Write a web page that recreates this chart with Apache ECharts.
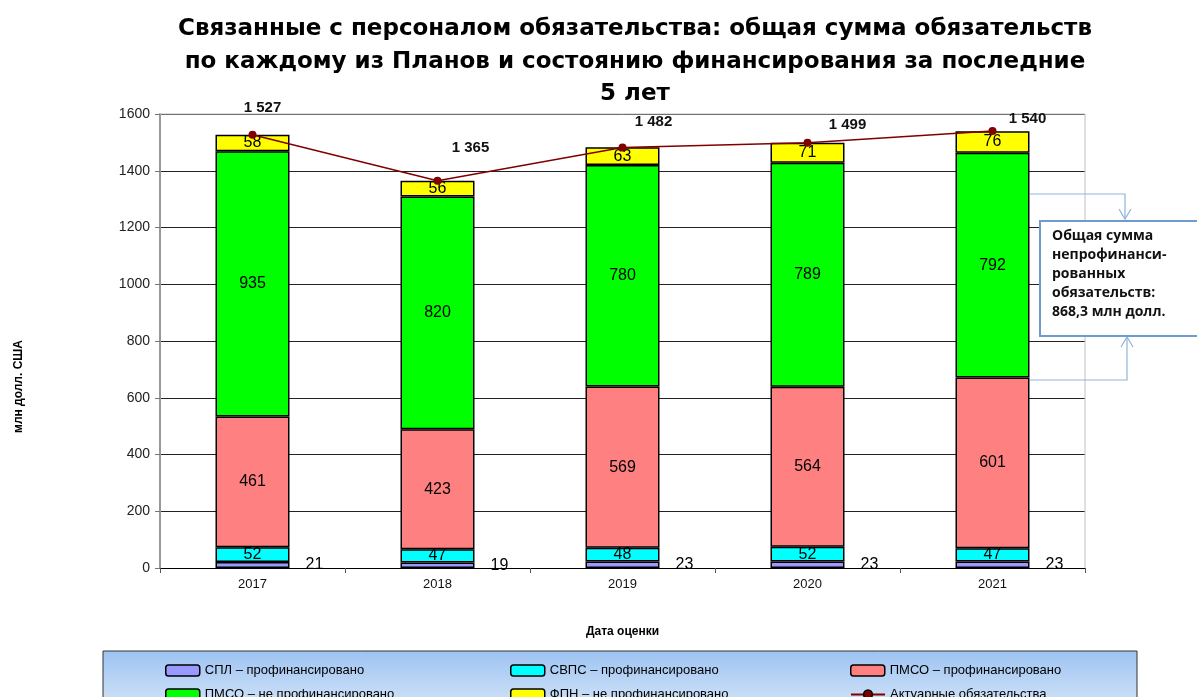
<!DOCTYPE html>
<html>
<head>
<meta charset="utf-8">
<script src="https://cdn.jsdelivr.net/npm/echarts@6/dist/echarts.min.js"></script>
<style>
  html, body { margin: 0; padding: 0; background: #fff; }
  #main { width: 1197px; height: 697px; }
</style>
</head>
<body>
<div id="main"></div>
<script>
// данные с картинки
var years = ['2017', '2018', '2019', '2020', '2021'];
var splFunded = [21, 19, 23, 23, 23];
var svpsFunded = [52, 47, 48, 52, 47];
var pmsoFunded = [461, 423, 569, 564, 601];
var pmsoUnfunded = [935, 820, 780, 789, 792];
var fpnUnfunded = [58, 56, 63, 71, 76];
var actuarial = [1527, 1365, 1482, 1499, 1540];
var yTicks = [0, 200, 400, 600, 800, 1000, 1200, 1400, 1600];

// сдвиги подписей линии (как на исходном рисунке)
var lineLabelOffsets = [[10, -10], [33, -16], [31, -9], [40, -1], [35, 4]];

var names = ['СПЛ – профинансировано', 'СВПС – профинансировано', 'ПМСО – профинансировано',
             'ПМСО – не профинансировано', 'ФПН – не профинансировано', 'Актуарные обязательства'];

function fmt(v) {
    return String(v).replace(/\B(?=(\d{3})+(?!\d))/g, ' ');
}

var barBase = {
    type: 'bar',
    stack: 'total',
    barWidth: '40%',
    itemStyle: { borderColor: '#000', borderWidth: 1.5 },
    label: { show: true, position: 'inside', color: '#000', fontSize: 16, fontFamily: 'Liberation Sans' }
};

function bar(name, data, color, extra) {
    var s = JSON.parse(JSON.stringify(barBase));
    s.name = name;
    s.data = data;
    s.itemStyle.color = color;
    if (extra) s.label = Object.assign(s.label, extra);
    return s;
}

var legendText = { fontSize: 13, color: '#000', fontFamily: 'Liberation Sans Narrow, Liberation Sans' };
var legendIcon = { borderColor: '#000', borderWidth: 1.5 };
var legendPos = [[160, 659], [505, 659], [845, 659], [160, 683], [505, 683], [845, 683]];
var order = [0, 1, 2, 3, 4, 5];

var legends = order.map(function (i) {
    return {
        left: legendPos[i][0], top: legendPos[i][1],
        itemWidth: 34, itemHeight: 11, itemGap: 5,
        data: [names[i]], textStyle: legendText, itemStyle: legendIcon
    };
});

var option = {
    animation: false,
    backgroundColor: '#fff',
    title: {
        text: 'Связанные с персоналом обязательства: общая сумма обязательств\nпо каждому из Планов и состоянию финансирования за последние\n5 лет',
        left: 630,
        textAlign: 'center',
        top: 8,
        textStyle: { fontSize: 23, fontWeight: 'bold', color: '#000', lineHeight: 32.5, fontFamily: 'DejaVu Sans' }
    },
    grid: { left: 160, right: 112, top: 114, bottom: 129 },
    xAxis: {
        type: 'category',
        data: years,
        name: 'Дата оценки',
        nameLocation: 'middle',
        nameGap: 58,
        nameTextStyle: { fontSize: 12, fontWeight: 'bold', color: '#000', fontFamily: 'Liberation Sans' },
        axisLine: { lineStyle: { color: '#000', width: 1 } },
        axisTick: { show: true, length: 5, lineStyle: { color: '#555' } },
        axisLabel: { fontSize: 13, color: '#111', margin: 10, fontFamily: 'Liberation Sans' }
    },
    yAxis: {
        type: 'value',
        min: yTicks[0],
        max: yTicks[yTicks.length - 1],
        interval: 200,
        axisLine: { show: true, lineStyle: { color: '#999', width: 2 } },
        axisTick: { show: true, length: 5, lineStyle: { color: '#777' } },
        axisLabel: { fontSize: 14, color: '#222', margin: 10, fontFamily: 'Liberation Sans',
                     formatter: function (v) { return String(v); } },
        splitLine: { lineStyle: { color: '#222', width: 1 } }
    },
    legend: legends,
    graphic: [
        // подпись оси Y
        { type: 'text', z: 5, silent: true, x: 13, y: 433, rotation: Math.PI / 2,
          style: { text: 'млн долл. США', font: 'bold 12px "Liberation Sans"', fill: '#000' } },
        // рамка графика (верх и право)
        { type: 'polyline', z: 1, silent: true,
          shape: { points: [[160, 114], [1085, 114], [1085, 568]] },
          style: { stroke: '#c0c0c0', lineWidth: 1, fill: null } },
        // фон легенды
        { type: 'rect', z: 0, silent: true,
          shape: { x: 103, y: 651, width: 1034, height: 60 },
          style: {
              fill: new echarts.graphic.LinearGradient(0, 0, 0, 1, [
                  { offset: 0, color: '#9dc3f2' },
                  { offset: 1, color: '#d6e6f8' }
              ]),
              stroke: '#333', lineWidth: 1
          } },
        // выноска
        { type: 'polyline', z: 5, silent: true,
          shape: { points: [[1030, 194], [1125, 194], [1125, 219]] },
          style: { stroke: '#8fb4dc', lineWidth: 1.2, fill: null } },
        { type: 'polyline', z: 5, silent: true,
          shape: { points: [[1119, 209], [1125, 219], [1131, 209]] },
          style: { stroke: '#8fb4dc', lineWidth: 1.2, fill: null } },
        { type: 'polyline', z: 5, silent: true,
          shape: { points: [[1030, 380], [1127, 380], [1127, 337]] },
          style: { stroke: '#8fb4dc', lineWidth: 1.2, fill: null } },
        { type: 'polyline', z: 5, silent: true,
          shape: { points: [[1121, 347], [1127, 337], [1133, 347]] },
          style: { stroke: '#8fb4dc', lineWidth: 1.2, fill: null } },
        { type: 'rect', z: 6, silent: true,
          shape: { x: 1040, y: 221, width: 170, height: 115 },
          style: { fill: '#fff', stroke: '#6f9ccc', lineWidth: 2 } },
        { type: 'text', z: 7, silent: true, left: 1052, top: 227,
          style: {
              text: 'Общая сумма\nнепрофинанси-\nрованных\nобязательств:\n868,3 млн долл.',
              font: 'bold 14px "Open Sans", "Noto Sans", sans-serif',
              lineHeight: 19, fill: '#111'
          } }
    ],
    series: [
        bar(names[0], splFunded, '#9999ff', { position: 'right', distance: 16 }),
        bar(names[1], svpsFunded, '#00ffff'),
        bar(names[2], pmsoFunded, '#ff8080'),
        bar(names[3], pmsoUnfunded, '#00ff00'),
        bar(names[4], fpnUnfunded, '#ffff00'),
        {
            name: names[5],
            type: 'line',
            data: actuarial.map(function (v, i) {
                return { value: v, label: { offset: lineLabelOffsets[i] } };
            }),
            z: 10,
            symbol: 'circle',
            symbolSize: 8,
            itemStyle: { color: '#800000' },
            lineStyle: { color: '#800000', width: 1.5 },
            label: {
                show: true,
                position: 'top',
                formatter: function (p) { return fmt(p.value); },
                fontSize: 15,
                fontWeight: 'bold',
                color: '#111',
                fontFamily: 'Liberation Sans'
            }
        }
    ]
};

echarts.init(document.getElementById('main')).setOption(option);
</script>
</body>
</html>
